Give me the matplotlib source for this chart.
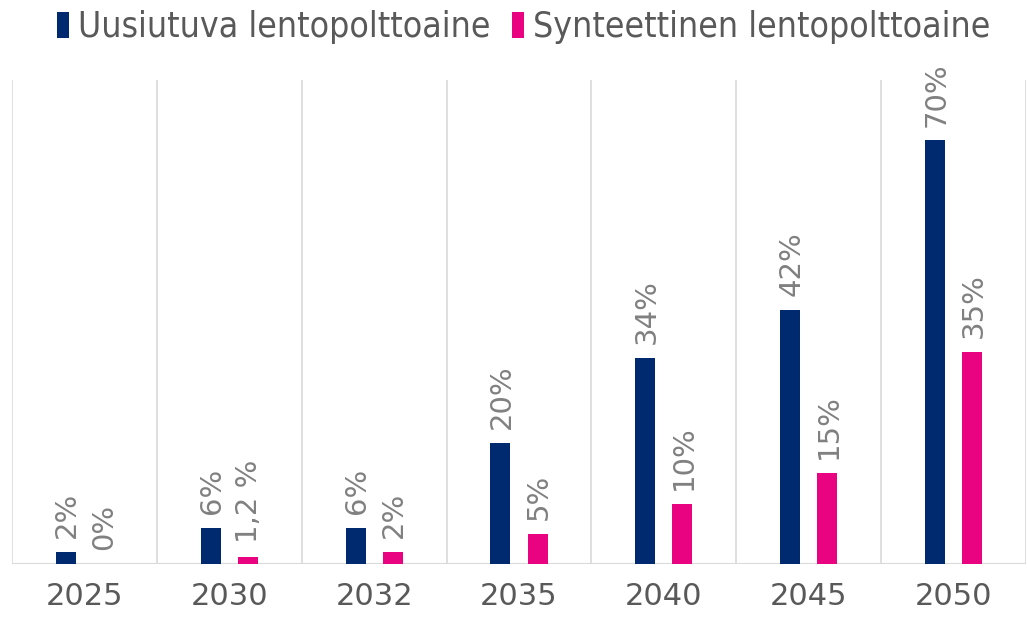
import matplotlib.pyplot as plt
import numpy as np

years = ['2025', '2030', '2032', '2035', '2040', '2045', '2050']
renewable = [2, 6, 6, 20, 34, 42, 70]
synthetic = [0, 1.2, 2, 5, 10, 15, 35]
renewable_labels = ['2%', '6%', '6%', '20%', '34%', '42%', '70%']
synthetic_labels = ['0%', '1,2 %', '2%', '5%', '10%', '15%', '35%']
series_names = ['Uusiutuva lentopolttoaine', 'Synteettinen lentopolttoaine']

blue = '#002a6f'
pink = '#ea0380'
grey = '#808080'

fig = plt.figure(figsize=(10.27, 6.17), dpi=100)
ax = fig.add_axes([12 / 1027, 53 / 617, 1014 / 1027, 484 / 617])

x = np.arange(len(years))
w = 0.138
off = 0.128
b1 = ax.bar(x - off, renewable, w, color=blue, label=series_names[0], zorder=3)
b2 = ax.bar(x + off, synthetic, w, color=pink, label=series_names[1], zorder=3)

for bars, labels in [(b1, renewable_labels), (b2, synthetic_labels)]:
    for rect, lab in zip(bars, labels):
        ax.annotate(lab, (rect.get_x() + rect.get_width() / 2, rect.get_height()),
                    xytext=(1, 10), textcoords='offset points', rotation=90,
                    ha='center', va='bottom', fontsize=21, color=grey)

ax.set_xlim(-0.5, len(years) - 0.5)
ax.set_ylim(0, 80)
for xv in np.arange(-0.5, len(years), 1.0):
    ax.axvline(xv, color='#d9d9d9', lw=1.2, zorder=1)
ax.axhline(0, color='#d9d9d9', lw=1.5, zorder=2)

for s in ax.spines.values():
    s.set_visible(False)
ax.set_yticks([])
ax.set_xticks(x)
ax.set_xticklabels(years, fontsize=22, color='#595959')
ax.tick_params(axis='x', length=0, pad=13)

fig.legend(handles=[b1, b2], loc='upper center', bbox_to_anchor=(0.51, 1.035), ncol=2,
           frameon=False, handlelength=0.35, handleheight=0.75, handletextpad=0.25,
           columnspacing=0.6, prop={'family': 'DejaVu Sans', 'stretch': 'condensed', 'size': 25.5},
           labelcolor='#595959')

fig.savefig('out.png', dpi=100)
